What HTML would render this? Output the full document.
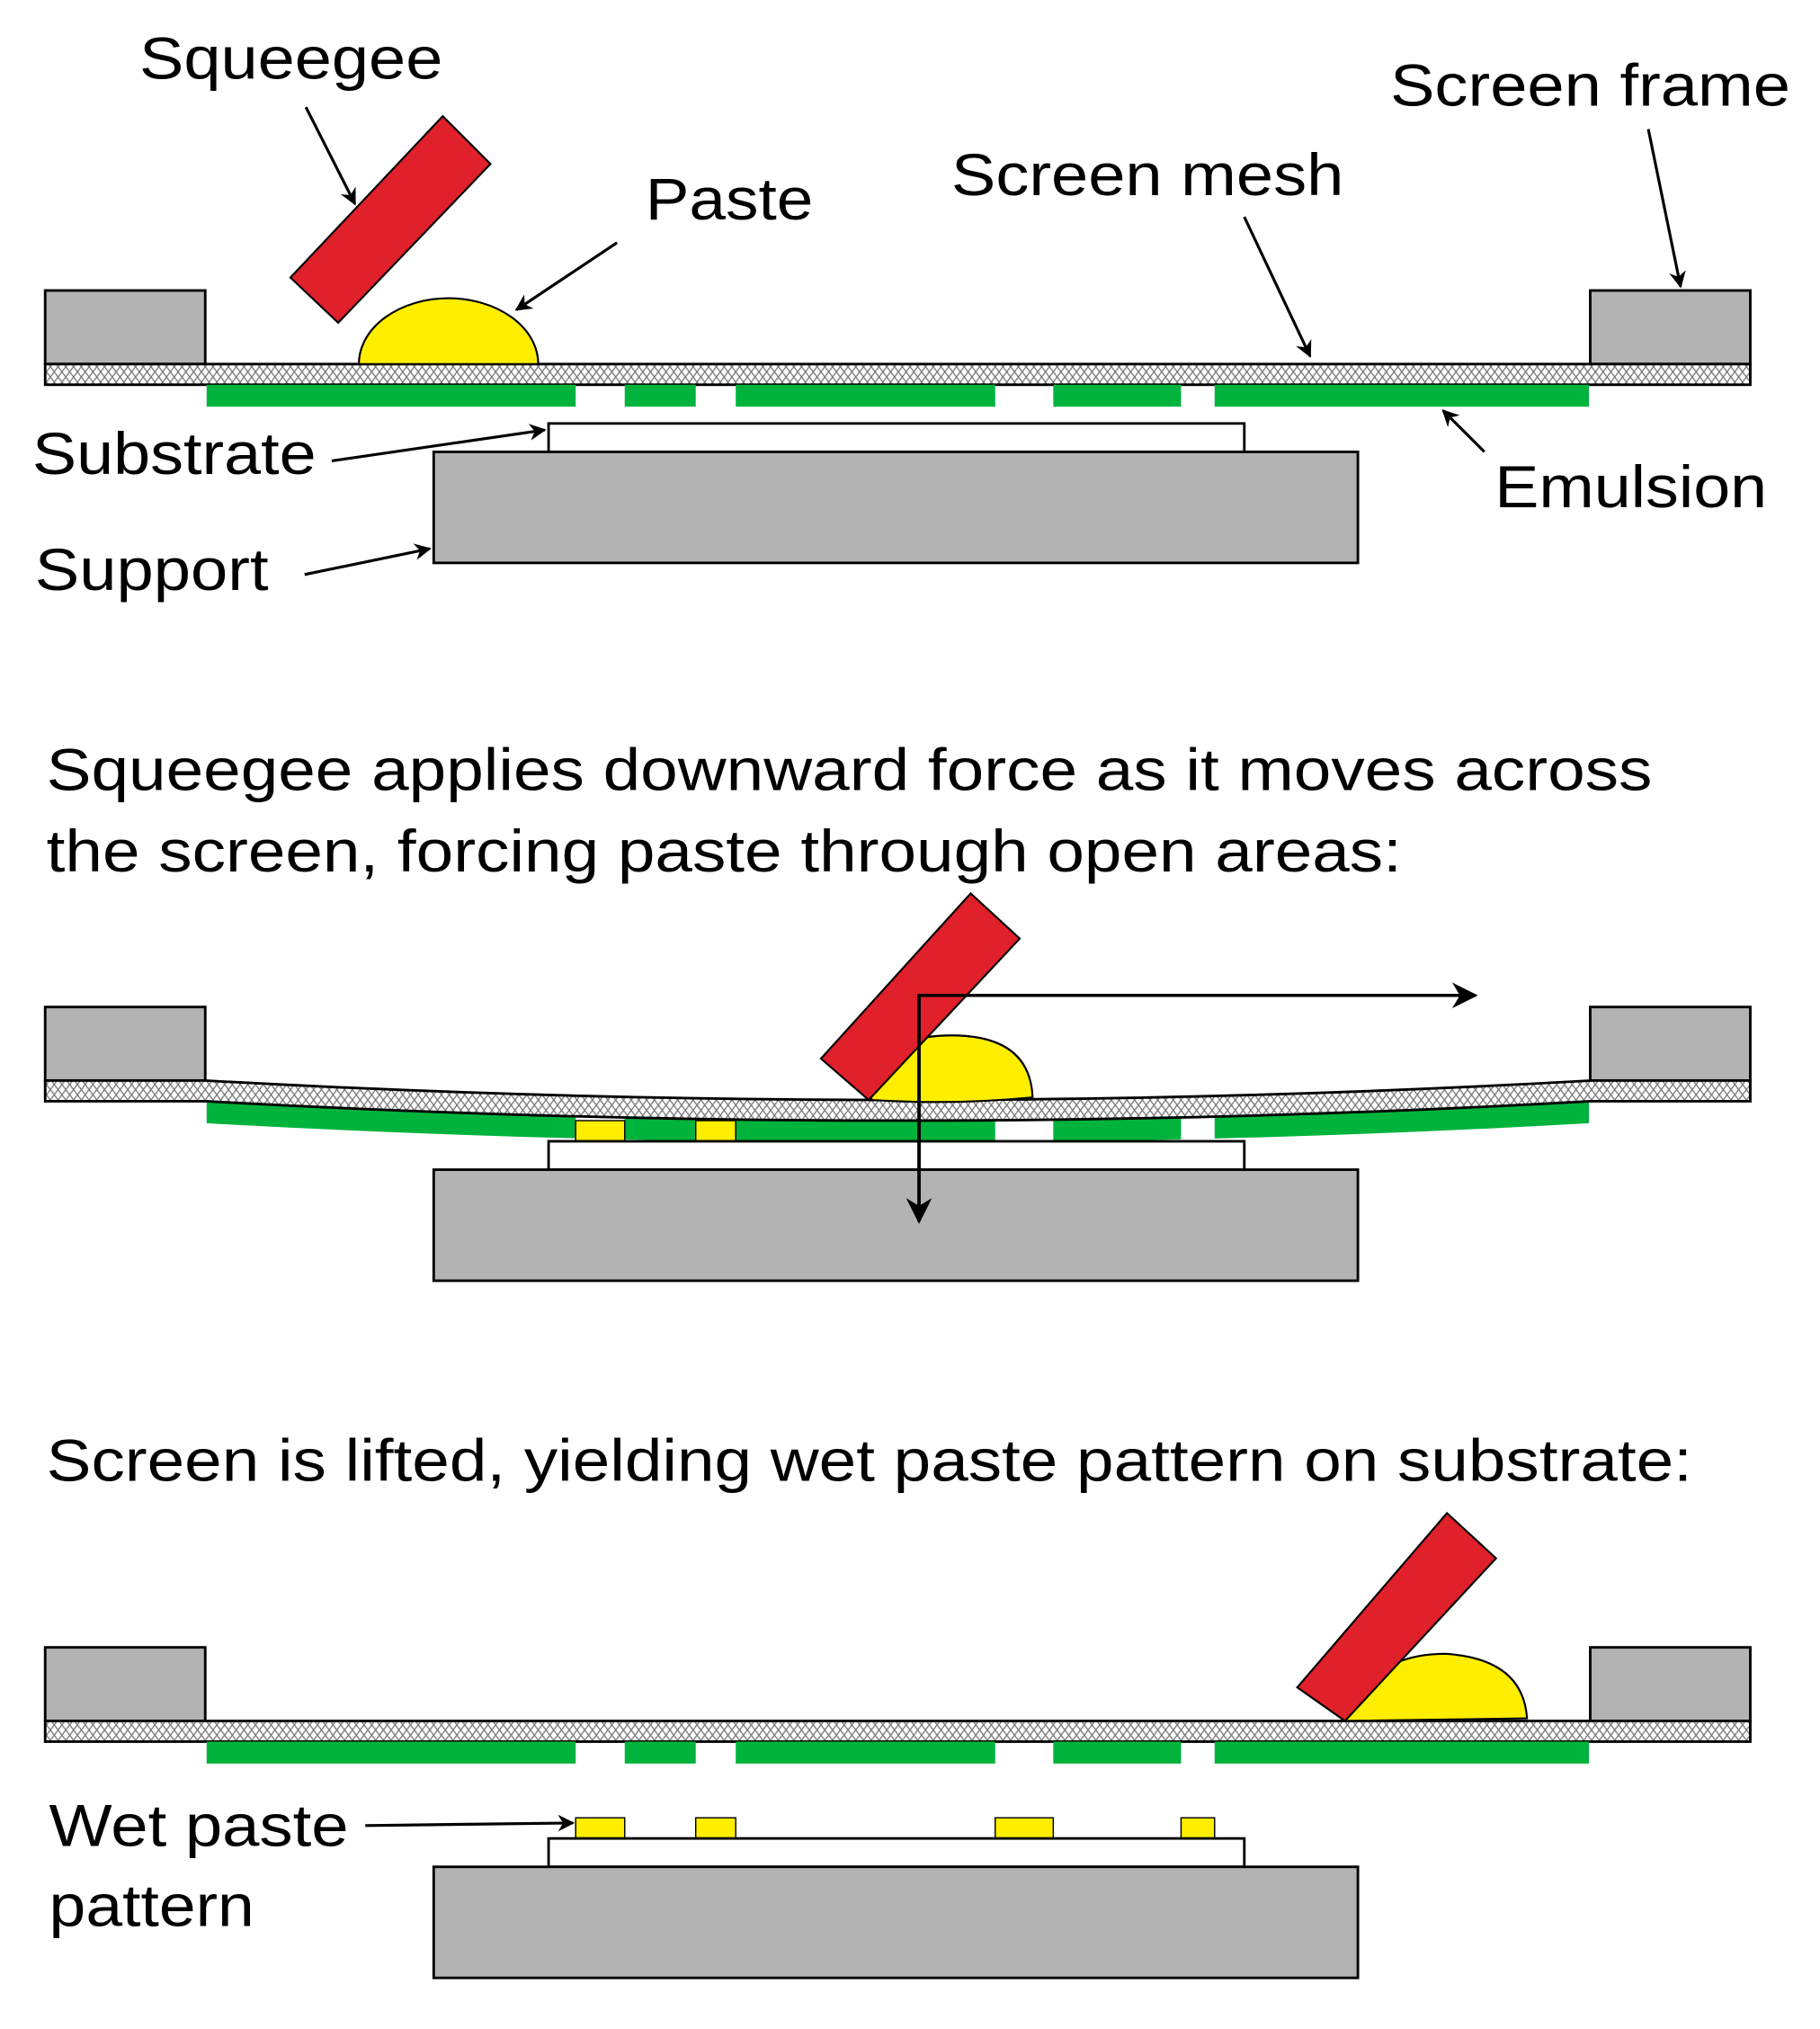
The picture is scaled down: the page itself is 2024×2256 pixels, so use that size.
<!DOCTYPE html>
<html><head><meta charset="utf-8"><style>html,body{margin:0;padding:0;background:#fff}svg{display:block}</style></head><body>
<svg width="2024" height="2256" viewBox="0 0 1410 1571.6" preserveAspectRatio="none" xmlns="http://www.w3.org/2000/svg" font-family="Liberation Sans, Arial, sans-serif" font-size="46">
<defs>
<pattern id="m" width="6" height="8" patternUnits="userSpaceOnUse">
<rect width="6" height="8" fill="#fff"/>
<path d="M0,0 L6,8 M6,0 L0,8" stroke="#777" stroke-width="0.9"/>
</pattern>
<marker id="a" viewBox="0 0 10 10" refX="9" refY="5" markerWidth="16" markerHeight="13" markerUnits="userSpaceOnUse" orient="auto"><path d="M0,0 L10,5 L0,10 L3,5 z" fill="#000"/></marker>
<marker id="b" viewBox="0 0 10 10" refX="9" refY="5" markerWidth="26" markerHeight="20" markerUnits="userSpaceOnUse" orient="auto"><path d="M0,0 L10,5 L0,10 L3,5 z" fill="#000"/></marker>
<clipPath id="em">
<rect x="160" y="0" width="286" height="1571"/><rect x="484" y="0" width="55" height="1571"/><rect x="570" y="0" width="201" height="1571"/><rect x="816" y="0" width="99" height="1571"/><rect x="941" y="0" width="290" height="1571"/>
</clipPath>
</defs>
<g stroke="#000" stroke-width="2">
<rect x="35" y="225" width="124" height="57" fill="#b3b3b3"/>
<rect x="1232" y="225" width="124" height="57" fill="#b3b3b3"/>
<rect x="35" y="282" width="1321" height="16" fill="url(#m)"/>
<g fill="#00b33c" stroke="none" clip-path="url(#em)"><rect x="0" y="298" width="1410" height="17"/></g>
<rect x="425" y="328" width="539" height="22" fill="#fff"/>
<rect x="336" y="350" width="716" height="86" fill="#b3b3b3"/>
<polygon points="225,215 343,90 380,127 262,250" fill="#e0202a" stroke-width="1.5"/>
<path d="M278,282 A69.5,51 0 0 1 417,282 Z" fill="#ffee00" stroke-width="1.5"/>
</g>
<g stroke="#000" stroke-width="2.2" fill="none" marker-end="url(#a)">
<line x1="237" y1="83" x2="275" y2="158"/>
<line x1="478" y1="188" x2="400" y2="240"/>
<line x1="964" y1="168" x2="1015" y2="276"/>
<line x1="1277" y1="100" x2="1302" y2="222"/>
<line x1="257" y1="357" x2="422" y2="333"/>
<line x1="1150" y1="350" x2="1118" y2="318"/>
<line x1="236" y1="445" x2="333" y2="425"/>
<line x1="283" y1="1414" x2="444" y2="1412"/>
</g>
<g fill="#000" lengthAdjust="spacingAndGlyphs">
<text x="108" y="61" textLength="235" lengthAdjust="spacingAndGlyphs">Squeegee</text>
<text x="500" y="170" textLength="130" lengthAdjust="spacingAndGlyphs">Paste</text>
<text x="737" y="151" textLength="304" lengthAdjust="spacingAndGlyphs">Screen mesh</text>
<text x="1077" y="82" textLength="310" lengthAdjust="spacingAndGlyphs">Screen frame</text>
<text x="25" y="367" textLength="220" lengthAdjust="spacingAndGlyphs">Substrate</text>
<text x="1158" y="393" textLength="211" lengthAdjust="spacingAndGlyphs">Emulsion</text>
<text x="27" y="457" textLength="181" lengthAdjust="spacingAndGlyphs">Support</text>
<text x="36" y="612" textLength="1244" lengthAdjust="spacingAndGlyphs">Squeegee applies downward force as it moves across</text>
<text x="36" y="675" textLength="1050" lengthAdjust="spacingAndGlyphs">the screen, forcing paste through open areas:</text>
<text x="36" y="1147" textLength="1275" lengthAdjust="spacingAndGlyphs">Screen is lifted, yielding wet paste pattern on substrate:</text>
<text x="38" y="1430" textLength="232" lengthAdjust="spacingAndGlyphs">Wet paste</text>
<text x="38" y="1492" textLength="159" lengthAdjust="spacingAndGlyphs">pattern</text>
</g>
<g stroke="#000" stroke-width="2">
<rect x="35" y="780" width="124" height="57" fill="#b3b3b3"/>
<rect x="1232" y="780" width="124" height="57" fill="#b3b3b3"/>
<g clip-path="url(#em)"><path d="M0,853 L160,853 Q700,883 1232,853 L1410,853 L1410,870 L1232,870 Q700,900 160,870 L0,870 Z" fill="#00b33c" stroke="none"/></g>
<rect x="446" y="868" width="38" height="16" fill="#ffee00" stroke-width="1"/>
<rect x="539" y="868" width="31" height="16" fill="#ffee00" stroke-width="1"/>
<path d="M35,837 L160,837 Q700,867 1232,837 L1356,837 L1356,853 L1232,853 Q700,883 160,853 L35,853 Z" fill="url(#m)"/>
<rect x="425" y="884" width="539" height="22" fill="#fff"/>
<rect x="336" y="906" width="716" height="86" fill="#b3b3b3"/>
<path d="M675,852 Q676,802 737,802 Q798,802 800,850 Q740,856 675,852 Z" fill="#ffee00" stroke-width="1.5"/>
<polygon points="636,820 752,692 790,727 673,852" fill="#e0202a" stroke-width="1.5"/>
</g>
<g stroke="#000" stroke-width="2.5" fill="none">
<polyline points="712,946 712,771 1143,771" marker-end="url(#b)"/>
<line x1="712" y1="771" x2="712" y2="946" marker-end="url(#b)"/>
</g>
<g stroke="#000" stroke-width="2">
<rect x="35" y="1276" width="124" height="57" fill="#b3b3b3"/>
<rect x="1232" y="1276" width="124" height="57" fill="#b3b3b3"/>
<rect x="35" y="1333" width="1321" height="16" fill="url(#m)"/>
<g fill="#00b33c" stroke="none" clip-path="url(#em)"><rect x="0" y="1349" width="1410" height="17"/></g>
<rect x="446" y="1408" width="38" height="16" fill="#ffee00" stroke-width="1"/>
<rect x="539" y="1408" width="31" height="16" fill="#ffee00" stroke-width="1"/>
<rect x="771" y="1408" width="45" height="16" fill="#ffee00" stroke-width="1"/>
<rect x="915" y="1408" width="26" height="16" fill="#ffee00" stroke-width="1"/>
<rect x="425" y="1424" width="539" height="22" fill="#fff"/>
<rect x="336" y="1446" width="716" height="86" fill="#b3b3b3"/>
<path d="M1042,1333 Q1060,1281 1120,1281 Q1180,1285 1183,1331 Z" fill="#ffee00" stroke-width="1.5"/>
<polygon points="1005,1307 1121,1172 1159,1207 1042,1333" fill="#e0202a" stroke-width="1.5"/>
</g>
</svg>
</body></html>
